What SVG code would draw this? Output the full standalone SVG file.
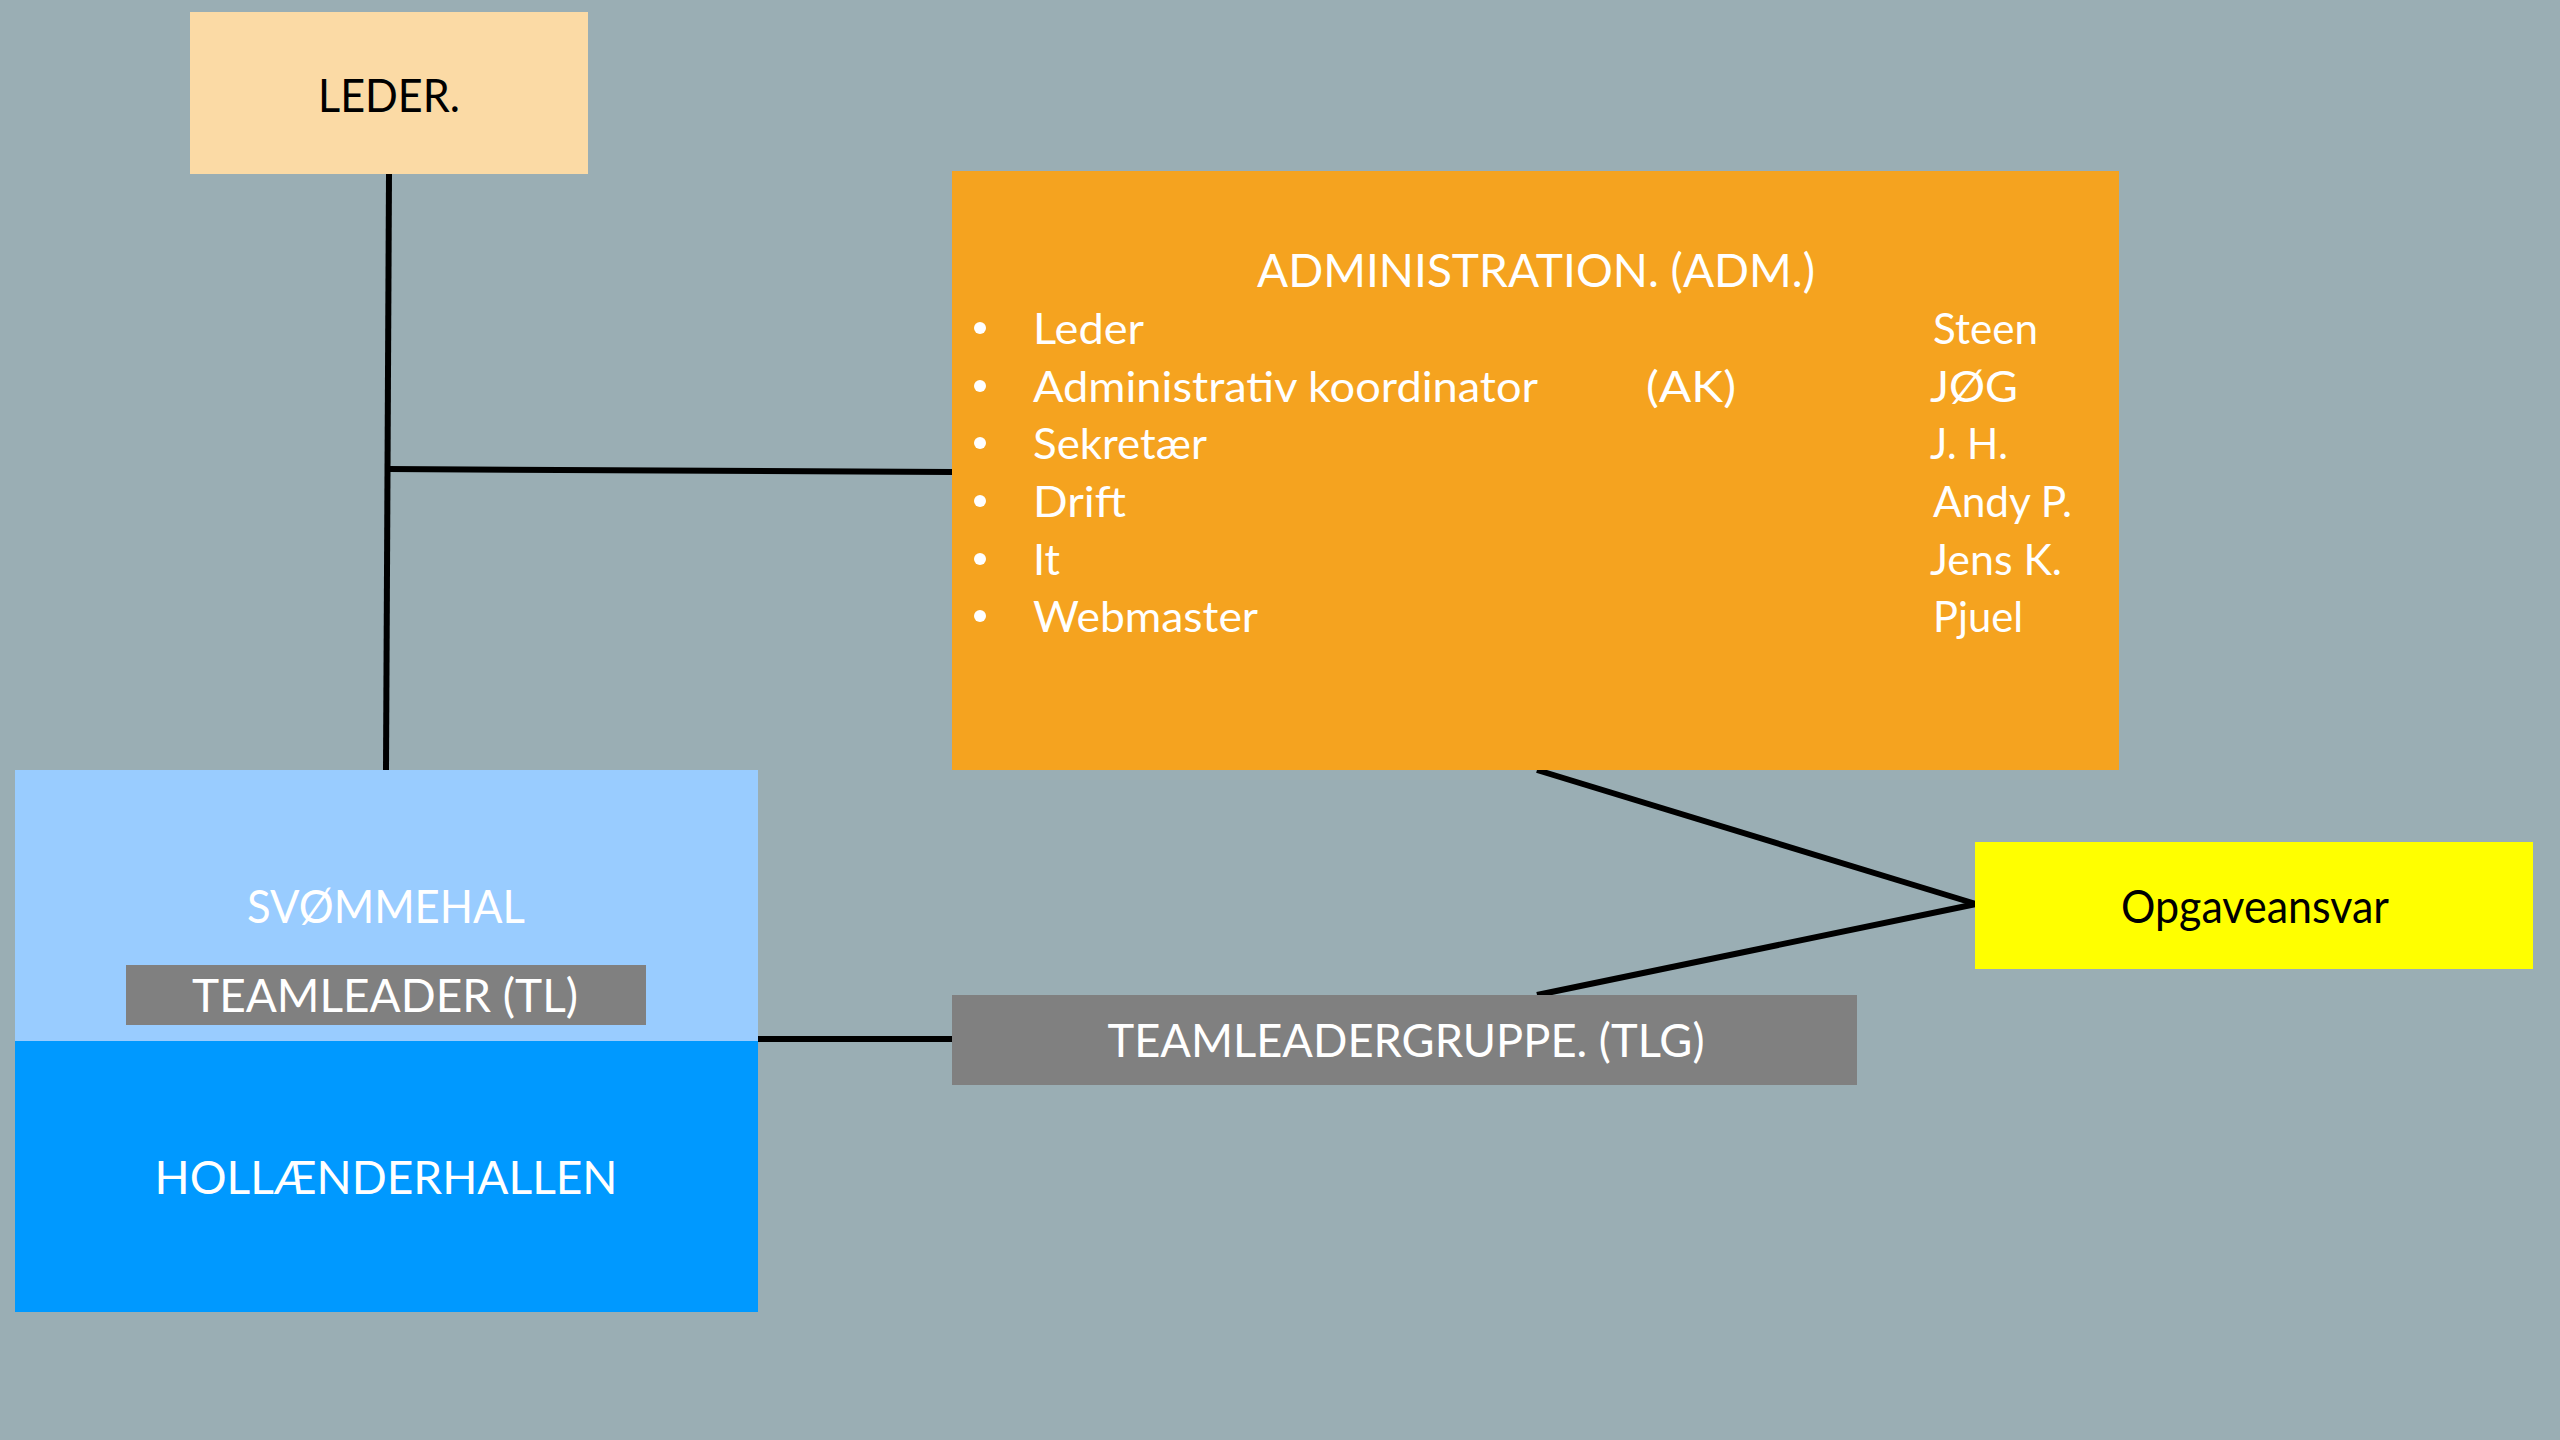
<svg xmlns="http://www.w3.org/2000/svg" width="2560" height="1440" viewBox="0 0 2560 1440">
<style>
text{font-family:Lato,"Open Sans","Liberation Sans",sans-serif}
.big{font-size:46px}
.item{font-size:42px;fill:#FFFFFF}
.w{fill:#FFFFFF}
.k{fill:#000000}
.conn{stroke:#000000;stroke-width:6;fill:none}
</style>
<rect x="0" y="0" width="2560" height="1440" fill="#9AAEB4"/>
<g id="connectors">
<line class="conn" x1="389" y1="174" x2="386" y2="770"/>
<line class="conn" x1="388" y1="469" x2="952" y2="472"/>
<line class="conn" x1="758" y1="1039" x2="952" y2="1039"/>
<line class="conn" x1="1537" y1="770" x2="1976" y2="904"/>
<line class="conn" x1="1537" y1="995" x2="1976" y2="904"/>
</g>
<g id="leder">
<rect x="190" y="12" width="398" height="162" fill="#FBDAA5"/>
<text class="big k" x="389" y="112" text-anchor="middle" textLength="142" lengthAdjust="spacingAndGlyphs">LEDER.</text>
</g>
<g id="administration">
<rect x="952" y="171" width="1167" height="599" fill="#F5A31F"/>
<text class="big w" x="1536" y="287" text-anchor="middle" textLength="558" lengthAdjust="spacingAndGlyphs">ADMINISTRATION. (ADM.)</text>
<g class="w">
<circle cx="980" cy="328" r="6"/>
<circle cx="980" cy="386" r="6"/>
<circle cx="980" cy="443" r="6"/>
<circle cx="980" cy="501" r="6"/>
<circle cx="980" cy="559" r="6"/>
<circle cx="980" cy="616" r="6"/>
</g>
<text class="item" x="1033" y="344" textLength="111" lengthAdjust="spacingAndGlyphs">Leder</text>
<text class="item" x="1033" y="402" textLength="505" lengthAdjust="spacingAndGlyphs">Administrativ koordinator</text>
<text class="item" x="1646" y="402" textLength="90" lengthAdjust="spacingAndGlyphs">(AK)</text>
<text class="item" x="1033" y="459" textLength="174" lengthAdjust="spacingAndGlyphs">Sekretær</text>
<text class="item" x="1033" y="517" textLength="93" lengthAdjust="spacingAndGlyphs">Drift</text>
<text class="item" x="1033" y="575" textLength="27" lengthAdjust="spacingAndGlyphs">It</text>
<text class="item" x="1033" y="632" textLength="225" lengthAdjust="spacingAndGlyphs">Webmaster</text>
<text class="item" x="1933" y="344" textLength="105" lengthAdjust="spacingAndGlyphs">Steen</text>
<text class="item" x="1930" y="402" textLength="88" lengthAdjust="spacingAndGlyphs">JØG</text>
<text class="item" x="1930" y="459" textLength="78" lengthAdjust="spacingAndGlyphs">J. H.</text>
<text class="item" x="1933" y="517" textLength="139" lengthAdjust="spacingAndGlyphs">Andy P.</text>
<text class="item" x="1930" y="575" textLength="132" lengthAdjust="spacingAndGlyphs">Jens K.</text>
<text class="item" x="1933" y="632" textLength="90" lengthAdjust="spacingAndGlyphs">Pjuel</text>
</g>
<g id="svommehal">
<rect x="15" y="770" width="743" height="271" fill="#99CCFF"/>
<text class="big w" x="386" y="923" text-anchor="middle" textLength="278" lengthAdjust="spacingAndGlyphs">SVØMMEHAL</text>
</g>
<g id="teamleader">
<rect x="126" y="965" width="520" height="60" fill="#808080"/>
<text class="big w" x="385" y="1012" text-anchor="middle" textLength="386" lengthAdjust="spacingAndGlyphs">TEAMLEADER (TL)</text>
</g>
<g id="hollaenderhallen">
<rect x="15" y="1041" width="743" height="271" fill="#0099FF"/>
<text class="big w" x="386" y="1194" text-anchor="middle" textLength="463" lengthAdjust="spacingAndGlyphs">HOLLÆNDERHALLEN</text>
</g>
<g id="teamleadergruppe">
<rect x="952" y="995" width="905" height="90" fill="#808080"/>
<text class="big w" x="1406" y="1057" text-anchor="middle" textLength="597" lengthAdjust="spacingAndGlyphs">TEAMLEADERGRUPPE. (TLG)</text>
</g>
<g id="opgaveansvar">
<rect x="1975" y="842" width="558" height="127" fill="#FFFF00"/>
<text class="big k" x="2255" y="923" text-anchor="middle" textLength="268" lengthAdjust="spacingAndGlyphs">Opgaveansvar</text>
</g>
</svg>
